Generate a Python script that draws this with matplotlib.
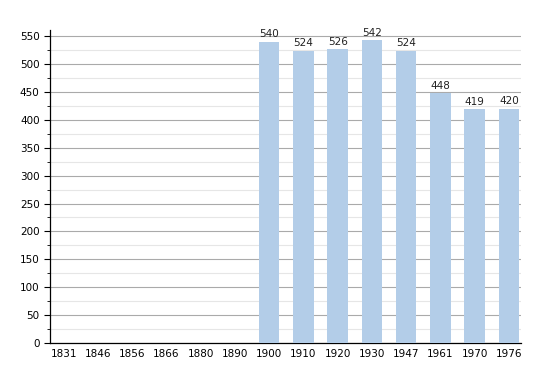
import matplotlib
matplotlib.use("Agg")
import matplotlib.pyplot as plt
from matplotlib.ticker import MultipleLocator

years = ["1831", "1846", "1856", "1866", "1880", "1890", "1900",
         "1910", "1920", "1930", "1947", "1961", "1970", "1976"]
population = [None, None, None, None, None, None, 540,
              524, 526, 542, 524, 448, 419, 420]

fig = plt.figure(figsize=(5.5, 3.73), dpi=100)
ax = fig.add_axes([0.091, 0.080, 0.856, 0.840])

xs = list(range(len(years)))
for x, v in zip(xs, population):
    if v is None:
        continue
    ax.bar(x, v, width=0.6, color="#b3cde8", zorder=3)
    ax.text(x, v + 4, str(v), ha="center", va="bottom", fontsize=7.5, color="#222222", zorder=4)

ax.set_xticks(xs)
ax.set_xticklabels(years, fontsize=7.5)
ax.set_xlim(-0.4, 13.35)
ax.set_ylim(0, 561)
ax.yaxis.set_major_locator(MultipleLocator(50))
ax.yaxis.set_minor_locator(MultipleLocator(25))
ax.tick_params(axis="y", labelsize=7.5, length=4, which="major")
ax.tick_params(axis="y", length=2, which="minor")
ax.tick_params(axis="x", length=0, pad=4)

ax.grid(axis="y", which="major", color="#aaaaaa", linewidth=0.8, zorder=0)
ax.grid(axis="y", which="minor", color="#e6e6e6", linewidth=0.8, zorder=0)

for s in ["top", "right"]:
    ax.spines[s].set_visible(False)
ax.spines["left"].set_linewidth(0.9)
ax.spines["bottom"].set_linewidth(0.9)

fig.savefig("out.png", dpi=100)
